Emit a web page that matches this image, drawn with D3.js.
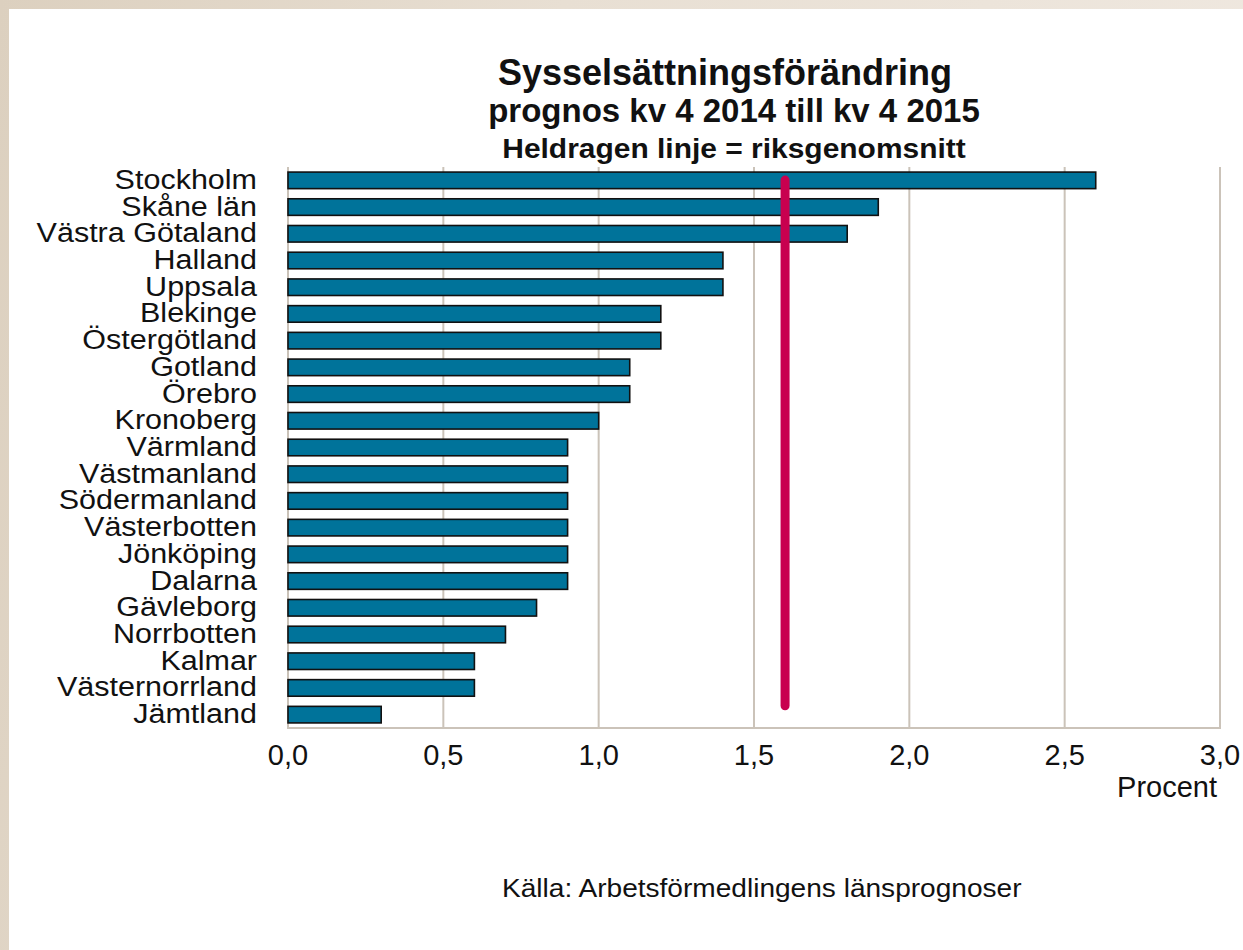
<!DOCTYPE html>
<html>
<head>
<meta charset="utf-8">
<script src="https://cdn.jsdelivr.net/npm/d3@7"></script>
<style>
  html, body { margin: 0; padding: 0; }
  body { width: 1243px; height: 950px; overflow: hidden;
         background: linear-gradient(100deg, #dcd0bf 0%, #e8dfd3 40%, #f0e9e1 100%); }
  svg { position: absolute; left: 9px; top: 9px; background: #fff; }
  text { font-family: "Liberation Sans", Arial, sans-serif; fill: #111; }
</style>
</head>
<body>
<script>
const categories = ["Stockholm","Skåne län","Västra Götaland","Halland","Uppsala","Blekinge","Östergötland","Gotland","Örebro","Kronoberg","Värmland","Västmanland","Södermanland","Västerbotten","Jönköping","Dalarna","Gävleborg","Norrbotten","Kalmar","Västernorrland","Jämtland"];
const values = [2.6,1.9,1.8,1.4,1.4,1.2,1.2,1.1,1.1,1.0,0.9,0.9,0.9,0.9,0.9,0.9,0.8,0.7,0.6,0.6,0.3];
const average = 1.6;
const ticks = [0,0.5,1.0,1.5,2.0,2.5,3.0];
const tickLabels = ["0,0","0,5","1,0","1,5","2,0","2,5","3,0"];
const titleLines = ["Sysselsättningsförändring","prognos kv 4 2014 till kv 4 2015","Heldragen linje = riksgenomsnitt"];
const unitLabel = "Procent";
const sourceText = "Källa: Arbetsförmedlingens länsprognoser";

const OX = 9, OY = 9;
const W = 1243 - OX, H = 950 - OY;
const svg = d3.select("body").append("svg").attr("width", W).attr("height", H);
const g = svg.append("g").attr("transform", `translate(${-OX},${-OY})`);

const x = d3.scaleLinear().domain([0, 3]).range([288, 1220]);
const y = d3.scaleBand().domain(categories).range([167, 728]).paddingInner(0.38).paddingOuter(0.19);

const gridColor = "#cbc3b9";
// gridlines
g.append("g").selectAll("line").data(ticks).join("line")
  .attr("x1", d => x(d)).attr("x2", d => x(d))
  .attr("y1", 167).attr("y2", 728)
  .attr("stroke", gridColor).attr("stroke-width", 2);
// bottom axis line
g.append("line").attr("x1", x(0) - 1).attr("x2", x(3) + 1).attr("y1", 728).attr("y2", 728)
  .attr("stroke", gridColor).attr("stroke-width", 2);

// bars
g.append("g").selectAll("rect").data(values).join("rect")
  .attr("x", x(0)).attr("y", (d, i) => y(categories[i]))
  .attr("width", d => x(d) - x(0)).attr("height", y.bandwidth())
  .attr("fill", "#00739a").attr("stroke", "#111").attr("stroke-width", 1.6);

// average line
g.append("line")
  .attr("x1", x(average)).attr("x2", x(average))
  .attr("y1", y(categories[0]) + 8).attr("y2", y(categories[categories.length - 1]) - 0.5)
  .attr("stroke", "#c8004f").attr("stroke-width", 9).attr("stroke-linecap", "round");

// category labels
const labX = 257;
g.append("g").selectAll("text").data(categories).join("text")
  .attr("transform", d => `translate(${labX},${y(d) + y.bandwidth() / 2 + 8.5}) scale(1.09,1)`)
  .attr("text-anchor", "end").attr("font-size", 28).text(d => d);

// tick labels
g.append("g").selectAll("text").data(ticks).join("text")
  .attr("x", d => x(d)).attr("y", 765)
  .attr("text-anchor", "middle").attr("font-size", 29).text((d, i) => tickLabels[i]);

g.append("text").attr("x", 1217).attr("y", 797).attr("text-anchor", "end")
  .attr("font-size", 29).text(unitLabel);

// titles
const titleSpec = [{s: 36, yb: 85, cx: 725, sx: 1}, {s: 33, yb: 122, cx: 734, sx: 1}, {s: 28, yb: 158, cx: 734, sx: 1.07}];
titleLines.forEach((t, i) => {
  const sp = titleSpec[i];
  g.append("text").attr("transform", `translate(${sp.cx},${sp.yb}) scale(${sp.sx},1)`)
    .attr("text-anchor", "middle").attr("font-weight", "bold").attr("font-size", sp.s).text(t);
});

g.append("text").attr("transform", `translate(502,897) scale(1.08,1)`)
  .attr("font-size", 26).text(sourceText);
</script>
</body>
</html>
